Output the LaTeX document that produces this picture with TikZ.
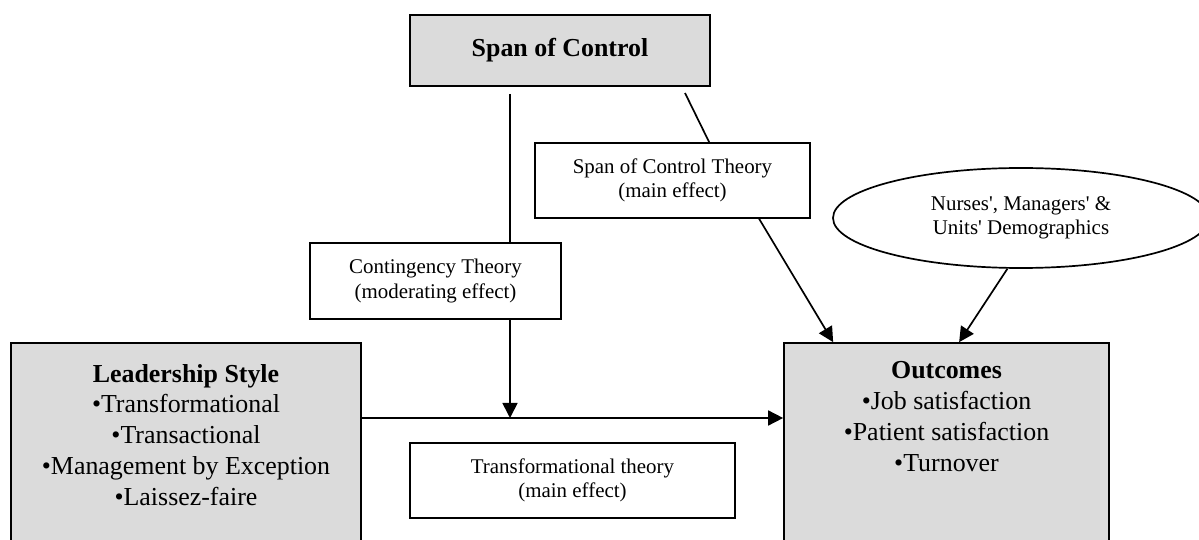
\documentclass[tikz,border=0pt]{standalone}
\usepackage{fontspec}
\setmainfont{Liberation Serif}
\usetikzlibrary{shapes.geometric,arrows.meta,calc}
\definecolor{boxgray}{RGB}{219,219,219}
\begin{document}
\begin{tikzpicture}[x=1bp,y=-1bp,
  line width=1.7bp,
  graybox/.style={draw=black,fill=boxgray,rectangle,inner sep=0pt},
  whitebox/.style={draw=black,fill=white,rectangle,inner sep=0pt,align=center,font=\fontsize{21}{24.5}\selectfont},
  bigtext/.style={align=center,inner sep=0pt,font=\fontsize{26}{31}\selectfont},
  arr/.style={-{Triangle[length=15bp,width=15bp]}}]
\useasboundingbox (0,0) rectangle (1199,540);
\clip (0,0) rectangle (1199,540);

% gray boxes
\node[graybox,minimum width=300bp,minimum height=71bp,font=\fontsize{26}{31}\selectfont\bfseries] (span) at (560,50.5) {Span of Control};
\node[graybox,minimum width=350bp,minimum height=207bp] (lead) at (186,446.5) {};
\node[bigtext] (leadtxt) at (186,435) {\textbf{Leadership Style}\\•Transformational\\•Transactional\\•Management by Exception\\•Laissez-faire};
\node[graybox,minimum width=325bp,minimum height=207bp] (out) at (946.5,446.5) {};
\node[bigtext] (outtxt) at (946.5,416.5) {\textbf{Outcomes}\\•Job satisfaction\\•Patient satisfaction\\•Turnover};

% white boxes
\node[whitebox,minimum width=251bp,minimum height=76bp] (cont) at (435.5,281) {Contingency Theory\\(moderating effect)};
\node[whitebox,minimum width=275bp,minimum height=75bp] (sct) at (672.5,180.5) {Span of Control Theory\\(main effect)};
\node[whitebox,minimum width=325bp,minimum height=75bp] (trans) at (572.5,480.5) {Transformational theory\\(main effect)};
\node[draw=black,fill=white,ellipse,inner sep=0pt,minimum width=376bp,minimum height=100bp,align=center,font=\fontsize{21}{24.5}\selectfont] (demo) at (1021,218) {Nurses\textquotesingle, Managers\textquotesingle{} \&\\Units\textquotesingle{} Demographics};

% coordinates
\coordinate (junction) at (510,418);
\coordinate (sv) at (510,94);
\coordinate (sd) at (685,93);

% connectors
\draw (sv) -- (cont.north -| sv);
\draw[arr] (cont.south -| junction) -- (junction);
\draw (sd) -- ($(sct.north west)+(175,0)$);
\draw[arr] ($(sct.south west)+(225,0)$) -- ($(out.north west)+(50,0)$);
\draw[arr] (lead.east |- junction) -- (out.west |- junction);
\draw[arr] (demo.255) -- ($(out.north west)+(176,0)$);
\end{tikzpicture}
\end{document}
